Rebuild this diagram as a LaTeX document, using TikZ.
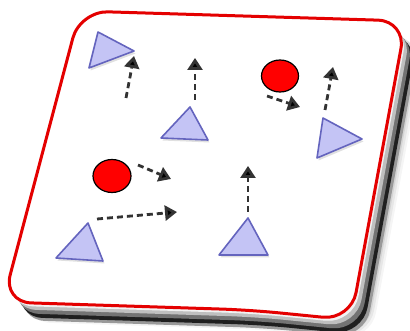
\documentclass[tikz,border=0pt]{standalone}
\usetikzlibrary{arrows.meta,shapes.geometric}
\definecolor{tri}{RGB}{196,196,245}
\definecolor{triedge}{RGB}{100,100,190}
\definecolor{rimred}{RGB}{228,0,0}
\tikzset{
  facepath/.style={rounded corners=28pt},
  tribox/.style={fill=tri, draw=triedge, line width=1.6pt, line join=round},
  trishadow/.style={fill=black, opacity=0.12},
  redblob/.style={ellipse, fill=red, draw=black, line width=1.2pt, inner sep=0pt},
  move/.style={draw=black!80, line width=2.8pt, dash pattern=on 6pt off 4pt,
     -{Triangle[width=15pt,length=12pt,fill=black]}},
}
\newcommand{\boardshape}{(80,11) -- (406,21) -- (351,320) -- (250,310) -- (3,302) -- cycle}
\begin{document}
\begin{tikzpicture}[x=1pt,y=-1pt]
\useasboundingbox (0,0) rectangle (410,331);
% soft shadow
\foreach \s/\o in {20/0.04,18/0.06,16/0.08} {
  \begin{scope}[shift={(\s,\s)}]
    \fill[black, opacity=\o, facepath] \boardshape;
  \end{scope}
}
% rim layers
\begin{scope}[shift={(14,18)}]
  \fill[black!40, facepath] \boardshape;
\end{scope}
\begin{scope}[shift={(11.5,15)}]
  \fill[black!88, facepath] \boardshape;
\end{scope}
\begin{scope}[shift={(8.5,11)}]
  \fill[black!55, facepath] \boardshape;
\end{scope}
\begin{scope}[shift={(5.5,7)}]
  \fill[black!25, facepath] \boardshape;
\end{scope}
\begin{scope}[shift={(2.5,3.5)}]
  \fill[black!5, facepath] \boardshape;
\end{scope}
% top face
\fill[white, facepath] \boardshape;
\draw[rimred, line width=3pt, facepath] \boardshape;

% triangles (coordinates)
\coordinate (t1a) at (98,32);  \coordinate (t1b) at (134,51); \coordinate (t1c) at (89,68);
\coordinate (t2a) at (190,107); \coordinate (t2b) at (208,140); \coordinate (t2c) at (161,138);
\coordinate (t3a) at (323,118); \coordinate (t3b) at (362,139); \coordinate (t3c) at (317,158);
\coordinate (t4a) at (88,223); \coordinate (t4b) at (103,261); \coordinate (t4c) at (56,258);
\coordinate (t5a) at (248,218); \coordinate (t5b) at (268,255); \coordinate (t5c) at (219,255);
\foreach \t in {t1,t2,t3,t4,t5} {
  \fill[trishadow] ([shift={(1.5,2.5)}]\t a) -- ([shift={(1.5,2.5)}]\t b) -- ([shift={(1.5,2.5)}]\t c) -- cycle;
  \draw[tribox] (\t a) -- (\t b) -- (\t c) -- cycle;
}

% red circles
\node[redblob, minimum width=37pt, minimum height=32pt] (c1) at (280,76) {};
\node[redblob, minimum width=38pt, minimum height=33pt] (c2) at (112,176) {};

% arrow endpoints
\coordinate (a1s) at (126,98);  \coordinate (a1e) at (134,56);
\coordinate (a2s) at (195,100); \coordinate (a2e) at (195,58);
\coordinate (a3s) at (267,96);  \coordinate (a3e) at (300,107);
\coordinate (a4s) at (325,110); \coordinate (a4e) at (333,67);
\coordinate (a5s) at (138,165); \coordinate (a5e) at (171,179);
\coordinate (a6s) at (97,219);  \coordinate (a6e) at (177,212);
\coordinate (a7s) at (248,212); \coordinate (a7e) at (248,166);
\foreach \a in {a1,a2,a3,a4,a5,a6,a7} {
  \draw[move] (\a s) -- (\a e);
}
\end{tikzpicture}
\end{document}
